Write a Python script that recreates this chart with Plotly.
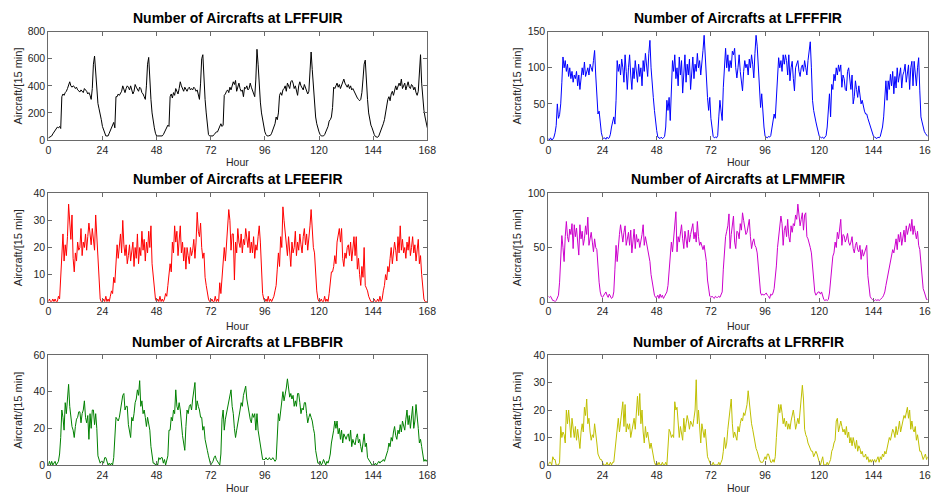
import plotly.graph_objects as go

# Half-hourly samples, hour 0 .. 168
hours = [i * 0.5 for i in range(337)]

lfffuir = [
    15,20,25,30,45,60,70,85,95,90,100,85, 320,340,330,350,360,380,410,430,400,390,400,395,
    380,390,370,360,355,370,360,350,380,370,360,340, 350,330,300,380,560,620,480,350,270,230,200,150,
    100,70,40,30,30,30,50,70,100,120,130,90, 320,320,340,330,350,360,400,370,350,380,400,390,
    370,400,360,340,360,410,390,370,360,390,380,350, 340,320,300,400,560,610,420,300,200,130,90,50,
    30,30,30,30,35,30,40,60,80,100,110,100, 320,340,310,350,330,380,360,340,380,430,400,380,
    360,390,370,360,380,390,370,380,370,390,380,360, 370,340,300,420,600,630,420,300,200,100,40,30,
    30,30,30,40,50,60,60,80,100,120,100,110, 330,340,360,370,350,390,370,400,430,410,440,360,
    400,420,380,360,370,320,390,380,400,370,380,420, 390,370,350,320,450,670,560,400,280,200,140,95,
    60,40,30,30,30,35,50,70,95,120,170,150, 200,330,350,330,370,380,400,360,420,400,380,430,
    440,420,380,400,350,330,400,430,400,380,370,410, 380,360,340,360,500,650,520,380,250,170,120,80,
    60,40,30,30,30,40,60,80,100,140,150,170, 240,390,380,400,420,390,410,380,400,420,450,420,
    400,390,410,380,400,370,380,360,340,330,310,300, 290,300,350,450,560,590,420,300,200,150,110,90,
    60,40,25,20,20,30,50,70,100,120,150,200, 280,300,320,290,340,360,330,380,400,370,390,420,
    400,450,380,400,420,370,400,430,390,380,410,400, 370,390,350,330,360,540,630,420,300,220,170,120,
    90,
]

lfffffir = [
    2,0,3,0,1,4,10,20,50,30,35,50, 80,115,100,110,95,105,88,100,85,95,80,90,
    85,95,75,90,70,85,100,90,108,88,95,100, 90,105,100,95,110,124,90,50,36,40,20,10,
    4,2,3,1,4,2,3,8,18,25,32,22, 55,110,95,105,90,112,100,80,118,95,70,100,
    118,90,70,100,85,110,95,80,105,88,100,75, 110,95,120,100,88,120,138,100,70,59,41,25,
    13,4,3,2,4,2,3,5,18,55,41,59, 27,60,110,95,118,85,100,75,115,90,110,65,
    100,118,80,105,90,112,70,100,115,85,105,95, 120,100,110,90,115,124,145,110,75,59,41,59,
    30,16,5,3,4,3,6,32,55,40,27,73, 100,127,100,118,95,110,100,123,118,127,100,86,
    100,118,95,80,68,95,110,100,105,90,112,100, 118,105,86,120,145,130,100,68,45,64,30,18,
    5,4,3,5,4,6,18,30,36,30,55,77, 114,100,110,95,118,105,118,110,90,118,82,100,
    109,85,68,100,104,110,95,88,100,104,95,110, 100,90,110,120,136,100,55,41,30,25,18,10,
    5,4,3,4,2,4,6,18,45,64,32,77, 70,91,82,100,90,104,95,104,73,90,85,70,
    68,95,100,80,70,90,50,60,82,70,59,75, 60,50,55,45,40,36,36,30,25,18,12,8,
    5,4,3,2,4,3,5,12,18,32,60,82, 55,82,70,91,75,95,64,88,72,100,80,95,
    100,72,90,95,105,80,95,104,70,100,109,75, 109,90,75,100,114,68,32,25,18,12,9,6,
    5,
]

lfeefir = [
    0,1,0,0,1,0,1,0,0,2,1,8, 18,25,15,21,17,24,36,31,23,32,16,11,
    18,15,22,19,20,27,17,22,20,25,19,24, 29,25,21,27,24,19,32,25,15,7,1,0,
    0,1,0,2,0,1,0,2,4,3,9,7, 14,21,16,20,25,18,30,21,17,21,14,17,
    21,15,18,22,13,20,16,25,14,20,17,26, 19,23,15,22,18,26,20,28,14,9,4,1,
    0,1,0,2,0,1,0,1,3,2,6,9, 14,11,22,18,28,22,26,17,22,28,18,22,
    15,20,12,20,17,14,20,17,19,23,16,22, 33,26,24,29,20,16,18,9,6,3,1,0,
    0,1,0,0,2,0,1,0,7,3,10,17, 20,15,22,28,34,30,19,25,25,8,22,18,
    27,22,20,25,18,23,21,27,24,20,26,18, 22,18,24,16,21,19,24,28,22,11,3,1,
    0,1,0,2,0,1,0,1,2,4,6,12, 18,13,24,20,35,30,25,20,17,24,19,13,
    22,18,20,26,17,22,19,25,21,18,24,27, 21,25,19,23,28,34,24,20,18,10,4,1,
    0,0,1,0,0,2,0,1,0,3,6,11, 11,13,17,14,22,25,27,22,27,16,13,18,
    16,20,21,17,22,15,19,24,17,24,12,16, 10,6,13,9,20,6,5,4,2,1,0,0,
    0,1,0,0,1,0,2,0,1,4,6,10, 8,13,11,16,20,14,17,22,19,15,24,18,
    28,19,23,18,20,16,22,19,24,17,20,24, 18,21,15,20,23,14,17,10,5,1,0,0,
    0,
]

lfmmfir = [
    5,4,5,3,1,1,0,1,3,6,18,43, 61,50,37,60,74,60,55,67,62,72,49,71,
    60,68,55,43,71,58,65,52,58,70,62,78, 52,60,64,55,46,58,50,48,30,18,9,5,
    4,6,7,9,6,4,7,5,3,4,9,30, 52,37,55,62,71,60,55,64,70,52,58,64,
    52,66,45,60,67,49,62,55,58,50,55,62, 71,52,60,55,48,42,37,25,18,10,6,4,
    4,6,3,7,4,6,3,5,7,9,15,30, 49,55,46,58,64,83,46,60,55,62,71,58,
    49,65,58,50,66,55,62,68,72,58,64,55, 74,60,52,55,50,48,52,45,37,20,9,5,
    4,5,4,3,5,4,4,5,4,6,9,30, 49,60,65,70,81,49,62,70,79,55,49,65,
    64,58,72,66,82,75,70,62,64,70,76,60, 49,55,58,52,50,45,30,18,8,6,7,6,
    7,8,6,5,3,7,6,8,12,20,33,50, 61,70,79,72,52,66,70,60,76,60,55,70,
    64,72,70,80,76,90,82,70,76,82,66,80, 82,60,58,55,50,45,30,18,9,6,8,9,
    9,7,9,5,2,1,2,1,2,8,18,30, 42,45,55,50,64,58,66,76,52,62,61,55,
    58,63,55,52,55,60,49,45,52,55,48,46, 52,39,48,42,45,50,52,24,10,5,3,2,
    2,1,2,1,2,1,2,3,4,6,9,15, 21,28,33,38,42,48,45,52,58,48,62,55,
    64,52,60,66,55,70,62,68,72,65,76,62, 70,64,58,65,52,48,33,20,12,9,5,2,
    2,
]

lfbbfir = [
    0,2,0,2,0,1,2,0,1,2,6,15, 30,26,19,34,28,36,44,32,26,21,19,15,
    21,25,26,29,29,23,28,30,35,26,23,27, 14,28,20,30,30,22,28,20,5,2,1,2,
    2,1,4,4,2,0,1,0,1,0,4,20, 26,25,24,26,30,35,38,39,30,32,32,22,
    19,15,26,24,28,34,36,41,38,46,32,35, 28,30,26,21,26,22,19,10,5,1,1,0,
    1,0,4,3,4,4,1,3,0,2,5,19, 19,26,24,30,28,41,32,30,34,30,22,16,
    12,8,21,30,28,32,33,30,36,40,45,30, 35,32,30,26,26,19,21,14,10,8,5,2,
    0,1,2,4,5,3,2,1,0,6,25,30, 19,25,28,32,35,38,41,32,28,20,15,19,
    22,26,30,34,32,38,40,43,36,32,28,25, 23,28,26,28,19,28,19,15,12,6,3,3,
    3,4,3,3,4,3,3,4,3,2,3,19, 28,24,30,35,40,35,38,42,47,40,37,39,
    36,38,32,35,32,39,39,34,28,31,30,34, 34,28,23,26,28,26,24,20,17,8,3,1,
    1,2,0,1,3,1,0,2,1,3,6,12, 15,19,24,20,24,17,20,14,19,12,17,15,
    14,16,17,13,19,10,14,12,11,15,17,12, 14,10,7,12,17,10,12,4,3,2,1,0,
    0,0,1,0,1,2,1,2,2,3,2,4, 6,8,12,10,15,13,18,21,16,14,19,17,
    22,18,24,21,19,25,30,22,27,20,28,32, 20,24,33,28,20,12,14,10,6,2,3,2,
    3,
]

lfrrfir = [
    0,1,1,0,3,2,2,0,0,0,1,14, 10,12,11,8,20,15,20,13,10,17,12,10,
    14,9,13,10,6,12,15,12,21,18,24,15, 17,12,9,11,10,15,12,8,4,3,2,2,
    1,0,0,0,1,0,0,1,0,1,1,5, 9,15,17,12,16,21,23,14,22,12,15,13,
    15,10,12,14,17,13,22,25,18,26,15,20, 12,8,14,10,12,8,6,8,5,3,1,0,
    1,0,1,0,0,1,0,0,1,0,6,13, 12,10,11,10,23,20,21,16,10,14,12,9,
    17,12,15,18,16,13,16,15,14,17,20,31, 15,20,12,8,15,12,10,13,8,3,2,1,
    0,0,1,0,0,0,0,1,0,1,2,5, 10,6,8,13,16,20,24,15,10,12,10,9,
    14,12,15,17,16,19,18,20,22,27,22,17, 15,13,10,8,6,5,3,2,1,1,1,2,
    3,2,4,4,2,1,1,2,1,3,10,16, 22,19,22,19,15,17,14,16,13,15,13,16,
    18,20,17,13,15,17,15,20,24,29,24,13, 11,10,8,7,6,5,5,3,4,5,4,2,
    1,0,2,3,0,0,0,1,0,1,2,5, 6,8,9,16,17,12,14,16,14,12,13,11,
    14,10,12,8,10,7,10,8,6,9,5,7, 6,4,5,3,3,4,2,3,1,2,1,2,
    1,2,1,2,3,1,3,2,4,3,5,4, 6,8,10,9,11,13,12,10,14,11,13,16,
    12,14,15,18,17,19,21,17,20,13,16,13, 12,14,9,11,7,5,5,3,2,3,4,2,
    3,
]

x_ticks = [0, 24, 48, 72, 96, 120, 144, 168]

panels = [
    # name, values, color, y max, y tick step
    ("LFFFUIR", lfffuir, "#000000", 800, 200),
    ("LFFFFIR", lfffffir, "#0000FF", 150, 50),
    ("LFEEFIR", lfeefir, "#FF0000", 40, 10),
    ("LFMMFIR", lfmmfir, "#CC00CC", 100, 50),
    ("LFBBFIR", lfbbfir, "#008000", 60, 20),
    ("LFRRFIR", lfrrfir, "#BFBF00", 40, 10),
]

W, H = 931, 495
x_doms = [(48.3, 427.3), (548.3, 927.7)]
y_doms = [(31.7, 140.0), (193.3, 301.7), (355.0, 465.0)]
title_py = [17.5, 178.5, 342.0]
hour_py = [162.0, 326.0, 487.5]
ylab_px = [17.7, 516.7]

fig = go.Figure()
annotations = []
axis_color = "#6a6a6a"
text_color = "#262626"
font_family = "Arial, Liberation Sans, sans-serif"

for k, (name, vals, color, ymax, ystep) in enumerate(panels):
    row, col = divmod(k, 2)
    idx = k + 1
    xa = "x" if idx == 1 else f"x{idx}"
    ya = "y" if idx == 1 else f"y{idx}"
    fig.add_trace(go.Scatter(x=hours, y=vals, mode="lines",
                             line=dict(color=color, width=1),
                             xaxis=xa, yaxis=ya, showlegend=False,
                             hoverinfo="skip"))
    x0, x1 = x_doms[col]
    y0, y1 = y_doms[row]
    common = dict(showgrid=False, zeroline=False, showline=True, linecolor=axis_color,
                  linewidth=1, mirror="ticks", ticks="inside", ticklen=4,
                  automargin=False, ticklabeloverflow="allow",
                  tickcolor=axis_color, tickfont=dict(size=10.5, color=text_color,
                                                      family=font_family))
    fig.layout[f"xaxis{'' if idx == 1 else idx}"] = dict(
        domain=[x0 / W, x1 / W], range=[0, 168], tickvals=x_ticks,
        anchor=ya, **common)
    fig.layout[f"yaxis{'' if idx == 1 else idx}"] = dict(
        domain=[1 - y1 / H, 1 - y0 / H], range=[0, ymax],
        tickvals=list(range(0, ymax + 1, ystep)), anchor=xa, **common)
    cx = (x0 + x1) / 2 / W
    annotations.append(dict(text=f"<b>Number of Aircrafts at {name}</b>", x=cx,
                            y=1 - title_py[row] / H, xref="paper", yref="paper",
                            showarrow=False, xanchor="center", yanchor="middle",
                            font=dict(size=14, color="#000000", family=font_family)))
    annotations.append(dict(text="Hour", x=cx, y=1 - hour_py[row] / H,
                            xref="paper", yref="paper", showarrow=False,
                            xanchor="center", yanchor="middle",
                            font=dict(size=10.5, color=text_color, family=font_family)))
    annotations.append(dict(text="Aircraft/[15 min]", x=ylab_px[col] / W,
                            y=1 - (y0 + y1) / 2 / H, xref="paper", yref="paper",
                            showarrow=False, xanchor="center", yanchor="middle",
                            textangle=-90,
                            font=dict(size=11, color=text_color, family=font_family)))

fig.update_layout(width=W, height=H, margin=dict(l=0, r=0, t=0, b=0),
                  paper_bgcolor="white", plot_bgcolor="white",
                  annotations=annotations, showlegend=False)

fig.write_html("out.html", config={"displayModeBar": False},
               post_script="document.body.style.margin='0px';"
                           "document.body.style.overflow='hidden';")
